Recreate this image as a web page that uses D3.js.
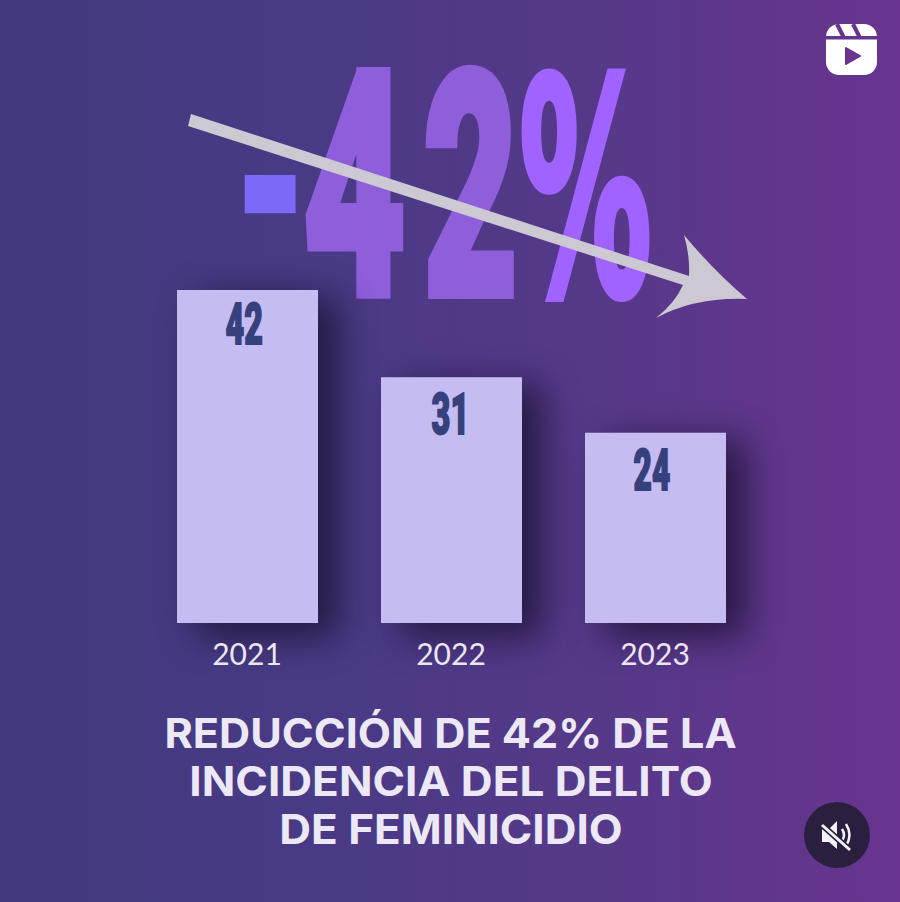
<!DOCTYPE html>
<html lang="es">
<head>
<meta charset="utf-8">
<title>Reducción de 42% de la incidencia del delito de feminicidio</title>
<script src="https://cdn.jsdelivr.net/npm/d3@7/dist/d3.min.js"></script>
<style>
  html, body { margin: 0; padding: 0; background: #4d3a86; }
  svg { display: block; }
</style>
</head>
<body>
<svg id="chart" width="900" height="902"></svg>
<script>
// Feminicide cases per year
const years = ["2021", "2022", "2023"];
const cases = [42, 31, 24];

// Headline pieces with the ink box each glyph group occupies: [x0, y0, x1, y1]
const headlineText = ["-", "4", "2", "%"];
const headlineColors = ["#7b6af5", "#8f5edb", "#8f5edb", "#a163fe"];
const headlineBoxes = [[244, 175, 296, 214], [303, 68, 406, 298], [423, 66, 515, 298], [520, 67, 652, 300]];
const headlineFonts = ["900 100px Roboto", "900 100px Roboto", "900 100px Roboto", "700 100px DejaVu Sans"];
const headlineWeights = [0, 7, 7, 6];

// Caption lines with their ink extents
const captionLines = ["REDUCCIÓN DE 42% DE LA", "INCIDENCIA DEL DELITO", "DE FEMINICIDIO"];
const captionBoxes = [[167, 708, 736, 748], [192, 765, 711, 796], [282, 813, 621, 844]];

const labelFont = "900 100px Roboto";
const captionFont = "700 100px Inter";

const svg = d3.select("#chart");
const defs = svg.append("defs");

const bg = defs.append("linearGradient").attr("id", "bg");
bg.selectAll("stop")
  .data([[0, "#403a7c"], [0.35, "#493a85"], [0.65, "#553989"], [1, "#68348f"]])
  .join("stop")
  .attr("offset", d => d[0])
  .attr("stop-color", d => d[1]);

defs.append("filter").attr("id", "soft")
  .attr("color-interpolation-filters", "sRGB")
  .attr("filterUnits", "userSpaceOnUse")
  .attr("x", 0).attr("y", 150).attr("width", 900).attr("height", 650)
  .append("feGaussianBlur").attr("stdDeviation", 19);

svg.append("rect").attr("width", 900).attr("height", 902).attr("fill", "url(#bg)");

// Ink-box fitting: scales a text so its glyph outlines fill the given box.
// An optional outline thickens the glyphs without growing past the box.
const ctx = document.createElement("canvas").getContext("2d");
function fitText(parent, text, font, box, color, weight = 0) {
  ctx.font = font;
  const m = ctx.measureText(text);
  const left = -m.actualBoundingBoxLeft, right = m.actualBoundingBoxRight;
  const top = -m.actualBoundingBoxAscent, bottom = m.actualBoundingBoxDescent;
  const sx = (box[2] - box[0] - weight) / (right - left);
  const sy = (box[3] - box[1] - weight) / (bottom - top);
  const parts = font.split(" ");
  return parent.append("text")
    .attr("transform", `translate(${box[0] + weight / 2 - left * sx},${box[1] + weight / 2 - top * sy}) scale(${sx / sy},1)`)
    .attr("font-family", parts.slice(2).join(" "))
    .attr("font-weight", parts[0])
    .attr("font-size", 100 * sy)
    .attr("fill", color)
    .attr("stroke", weight ? color : "none")
    .attr("stroke-width", weight)
    .attr("stroke-linejoin", "miter")
    .attr("vector-effect", "non-scaling-stroke")
    .text(text);
}

// Headline figure
const headline = svg.append("g");
headlineText.forEach((t, i) =>
  fitText(headline, t, headlineFonts[i], headlineBoxes[i], headlineColors[i], headlineWeights[i]));

// Scales
const x = d3.scaleBand().domain(years).range([177, 726]).paddingInner(63 / 204).paddingOuter(0);
const y = d3.scaleLinear().domain([0, 42]).range([623, 290]);

// Soft shadows behind the bars
svg.append("g").selectAll("rect")
  .data(years)
  .join("rect")
  .attr("x", d => x(d) + 20)
  .attr("y", (d, i) => y(cases[i]) + 8)
  .attr("width", x.bandwidth())
  .attr("height", (d, i) => y(0) - y(cases[i]) + 6)
  .attr("fill", "#18102e")
  .attr("opacity", 0.8)
  .attr("filter", "url(#soft)");

// Bars
svg.append("g").selectAll("rect")
  .data(years)
  .join("rect")
  .attr("x", d => x(d))
  .attr("y", (d, i) => y(cases[i]))
  .attr("width", x.bandwidth())
  .attr("height", (d, i) => y(0) - y(cases[i]))
  .attr("fill", "#c5bcf2");

// Value labels in the upper part of each bar
const labels = svg.append("g");
cases.forEach((v, i) => {
  const cx = x(years[i]) + x.bandwidth() / 2 - 3.5;
  const top = y(v) + (i === 0 ? 12 : 15);
  const half = v === 31 ? 16.5 : 18.5;
  fitText(labels, String(v), labelFont, [cx - half, top, cx + half, top + 43], "#36407c", 1.5);
});

// Year axis
const axis = svg.append("g")
  .attr("transform", `translate(-0.5,${y(0)})`)
  .call(d3.axisBottom(x).tickSize(0).tickPadding(21));
axis.select(".domain").remove();
axis.selectAll("text")
  .attr("font-family", "Lato, sans-serif")
  .attr("font-size", 30)
  .attr("font-weight", 400)
  .attr("fill", "#ebe5f6");

// Trend arrow crossing the headline
const arrow = d3.path();
arrow.moveTo(191, 114);
arrow.lineTo(689, 276);
arrow.quadraticCurveTo(690, 255, 684, 235);
arrow.quadraticCurveTo(714, 271, 747, 299);
arrow.quadraticCurveTo(695, 297, 656, 318);
arrow.quadraticCurveTo(675, 303, 683, 285);
arrow.lineTo(188, 126);
arrow.closePath();
svg.append("path").attr("d", arrow.toString()).attr("fill", "#cdc9d3");

// Caption
const caption = svg.append("g");
captionLines.forEach((t, i) => fitText(caption, t, captionFont, captionBoxes[i], "#ece8f6"));

// Reels badge, top right
const reel = svg.append("g").attr("transform", "translate(826,24)");
reel.append("rect").attr("width", 51).attr("height", 51).attr("rx", 13).attr("fill", "#fff");
reel.append("rect").attr("x", 0).attr("y", 12).attr("width", 51).attr("height", 3.5).attr("fill", "#68348f");
reel.append("path").attr("d", "M11 0L18 14").attr("stroke", "#68348f").attr("stroke-width", 4);
reel.append("path").attr("d", "M27 0L34 14").attr("stroke", "#68348f").attr("stroke-width", 4);
reel.append("path").attr("d", "M20 24L34 32L20 40Z")
  .attr("fill", "#68348f").attr("stroke", "#68348f").attr("stroke-width", 2).attr("stroke-linejoin", "round");

// Muted-audio button, bottom right
const mute = svg.append("g").attr("transform", "translate(837,835)");
mute.append("circle").attr("r", 33).attr("fill", "#2a1f3e");
mute.append("path").attr("d", "M-15 -6L-8 -6L0 -14L0 14L-8 7L-15 7Z").attr("fill", "#f4f2f6");
mute.append("path").attr("d", "M5 -6Q9 0 5 6M9 -11Q16 0 9 11")
  .attr("fill", "none").attr("stroke", "#f4f2f6").attr("stroke-width", 2.5);
mute.append("path").attr("d", "M-15 -10L13 15").attr("stroke", "#2a1f3e").attr("stroke-width", 6);
mute.append("path").attr("d", "M-15 -10L13 15").attr("stroke", "#f4f2f6").attr("stroke-width", 3);
</script>
</body>
</html>
